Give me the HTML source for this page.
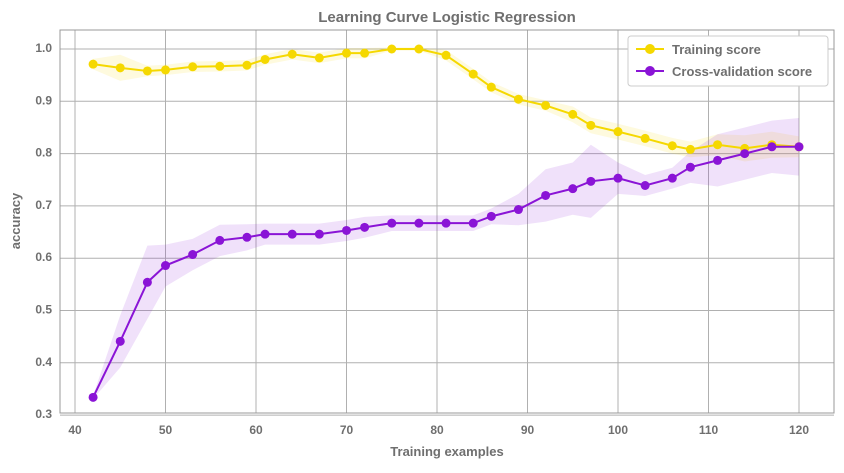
<!DOCTYPE html>
<html><head><meta charset="utf-8"><style>
body{margin:0;background:#fff;}
text{font-family:"Liberation Sans",sans-serif;fill:#6f6f6f;font-weight:bold;}
</style></head><body>
<svg id="chart" width="844" height="468">
<text x="447" y="22" text-anchor="middle" font-size="15">Learning Curve Logistic Regression</text>
<g id="grid"></g><g id="bands"></g><g id="lines"></g><g id="axes"></g>
<text x="447" y="456" text-anchor="middle" font-size="13">Training examples</text>
<text x="20" y="221" text-anchor="middle" font-size="13" transform="rotate(-90 20 221)">accuracy</text>
<g>
<rect x="628" y="36" width="200" height="50" fill="#fff" stroke="#ccc" rx="3"/>
<g>
<line x1="636" y1="49" x2="664" y2="49" stroke="#f5d800" stroke-width="2"/><circle cx="650" cy="49" r="5" fill="#f5d800"/>
<text x="672" y="54" font-size="13">Training score</text></g>
<g>
<line x1="636" y1="71" x2="664" y2="71" stroke="#8a14d6" stroke-width="2"/><circle cx="650" cy="71" r="5" fill="#8a14d6"/>
<text x="672" y="76" font-size="13">Cross-validation score</text></g>
</g>
</svg>
<script>
const sizes=[42,45,48,50,53,56,59,61,64,67,70,72,75,78,81,84,86,89,92,95,97,100,103,106,108,111,114,117,120];
const trainScores=[0.971,0.964,0.958,0.96,0.966,0.967,0.969,0.98,0.99,0.983,0.992,0.992,1.0,1.0,0.988,0.952,0.927,0.904,0.892,0.875,0.854,0.842,0.829,0.815,0.808,0.817,0.81,0.817,0.813];
const trainStd=[0.01,0.025,0.01,0.01,0.01,0.01,0.01,0.01,0.01,0.01,0.01,0.01,0.003,0.003,0.01,0.01,0.01,0.01,0.01,0.015,0.015,0.015,0.015,0.015,0.015,0.02,0.025,0.025,0.02];
const cvScores=[0.334,0.441,0.554,0.586,0.607,0.634,0.64,0.646,0.646,0.646,0.653,0.659,0.667,0.667,0.667,0.667,0.68,0.693,0.72,0.733,0.747,0.753,0.739,0.753,0.774,0.787,0.8,0.813,0.813];
const cvStd=[0.003,0.05,0.07,0.04,0.03,0.03,0.025,0.02,0.02,0.02,0.02,0.02,0.015,0.015,0.015,0.015,0.015,0.03,0.05,0.05,0.07,0.03,0.02,0.02,0.03,0.05,0.05,0.05,0.055];
const xTicks=[40,50,60,70,80,90,100,110,120];
const yTicks=[0.3,0.4,0.5,0.6,0.7,0.8,0.9,1.0];
const NS="http://www.w3.org/2000/svg";
const L=60,R=834,T=30,B=413;
const xs=v=>75+(v-40)*9.05;
const ys=v=>49+(1.0-v)*523;
function mk(tag,attrs,parent){const e=document.createElementNS(NS,tag);for(const k in attrs)e.setAttribute(k,attrs[k]);document.getElementById(parent).appendChild(e);return e;}
xTicks.forEach(t=>{
 const g=mk('line',{x1:xs(t),x2:xs(t),y1:T,y2:B,stroke:'#b0b0b0','stroke-width':1},'grid');
 
 
 const tx=mk('text',{x:xs(t),y:B+21,'text-anchor':'middle','font-size':12},'axes');tx.textContent=t;
 
 
});
yTicks.forEach(t=>{
 const g=mk('line',{x1:L,x2:R,y1:ys(t),y2:ys(t),stroke:'#b0b0b0','stroke-width':1},'grid');
 
 
 const tx=mk('text',{x:L-8,y:ys(t)+3,'text-anchor':'end','font-size':12},'axes');tx.textContent=t.toFixed(1);
 
 
});
const fr=mk('rect',{x:L,y:T,width:R-L,height:B-T,fill:'none',stroke:'#999'},'axes');


function series(sc,sd,col,name){
 let up=sizes.map((s,i)=>xs(s)+','+ys(sc[i]+sd[i]));
 let dn=sizes.map((s,i)=>xs(s)+','+ys(sc[i]-sd[i])).reverse();
 const b=mk('polygon',{points:up.concat(dn).join(' '),fill:col,'fill-opacity':0.13},'bands');
 
 
 const l=mk('polyline',{points:sizes.map((s,i)=>xs(s)+','+ys(sc[i])).join(' '),fill:'none',stroke:col,'stroke-width':2},'lines');
 
 
 sizes.forEach((s,i)=>{
  const c=mk('circle',{cx:xs(s),cy:ys(sc[i]),r:4.5,fill:col},'lines');
  
  
 });
}
series(trainScores,trainStd,'#f5d800','training');
series(cvScores,cvStd,'#8a14d6','cv');
</script>
</body></html>
